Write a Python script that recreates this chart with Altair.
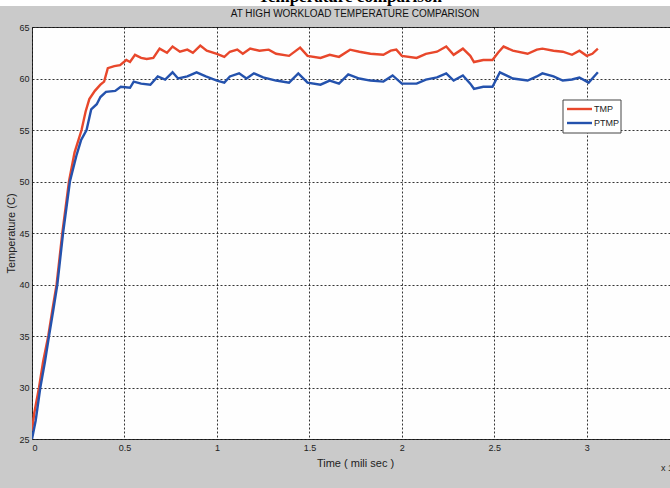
import altair as alt
import pandas as pd

# Series read as (time in ms, temperature in C)
tmp_time = [0, 0.012, 0.038, 0.06, 0.088, 0.11, 0.133, 0.164, 0.2, 0.23, 0.268, 0.29, 0.31, 0.34,
            0.37, 0.39, 0.41, 0.445, 0.476, 0.51, 0.53, 0.557, 0.59, 0.62, 0.656, 0.69, 0.73, 0.76,
            0.8, 0.84, 0.87, 0.91, 0.945, 1.0, 1.04, 1.07, 1.11, 1.14, 1.18, 1.23, 1.28, 1.32,
            1.39, 1.45, 1.49, 1.56, 1.61, 1.66, 1.72, 1.77, 1.83, 1.9, 1.94, 1.97, 2.0, 2.08,
            2.13, 2.19, 2.24, 2.28, 2.33, 2.37, 2.39, 2.44, 2.49, 2.52, 2.55, 2.6, 2.68, 2.73,
            2.76, 2.82, 2.87, 2.92, 2.96, 3.0, 3.03, 3.06]
tmp_temp = [25.8, 27.5, 30.0, 32.5, 35.0, 37.5, 40.0, 45.0, 50.0, 52.8, 55.0, 56.8, 58.0, 58.8,
            59.4, 59.7, 61.0, 61.2, 61.3, 61.8, 61.6, 62.3, 62.0, 61.9, 62.0, 62.9, 62.5, 63.1,
            62.6, 62.8, 62.5, 63.2, 62.7, 62.4, 62.1, 62.6, 62.8, 62.4, 62.9, 62.7, 62.8, 62.4,
            62.2, 63.0, 62.2, 62.0, 62.3, 62.1, 62.8, 62.6, 62.4, 62.3, 62.7, 62.8, 62.2, 62.0,
            62.4, 62.6, 63.1, 62.3, 62.9, 62.2, 61.6, 61.8, 61.8, 62.5, 63.1, 62.7, 62.4, 62.8,
            62.9, 62.7, 62.6, 62.3, 62.7, 62.2, 62.4, 62.9]

ptmp_time = [0, 0.02, 0.045, 0.07, 0.092, 0.115, 0.137, 0.168, 0.205, 0.24, 0.265, 0.295, 0.32,
             0.35, 0.37, 0.40, 0.45, 0.48, 0.53, 0.55, 0.59, 0.64, 0.68, 0.72, 0.76, 0.79, 0.84,
             0.89, 0.94, 1.0, 1.04, 1.07, 1.12, 1.16, 1.2, 1.25, 1.32, 1.39, 1.44, 1.49, 1.56,
             1.61, 1.66, 1.71, 1.77, 1.83, 1.9, 1.95, 2.0, 2.08, 2.13, 2.19, 2.24, 2.28, 2.33,
             2.37, 2.39, 2.44, 2.49, 2.53, 2.6, 2.68, 2.73, 2.76, 2.82, 2.87, 2.92, 2.96, 3.01,
             3.03, 3.06]
ptmp_temp = [25.0, 26.8, 30.0, 32.5, 35.0, 37.5, 40.0, 45.0, 50.0, 52.5, 54.0, 55.0, 57.0,
             57.5, 58.2, 58.7, 58.8, 59.2, 59.1, 59.7, 59.5, 59.4, 60.2, 59.9, 60.6, 60.0, 60.2,
             60.6, 60.2, 59.8, 59.6, 60.2, 60.5, 60.0, 60.5, 60.1, 59.8, 59.6, 60.5, 59.6, 59.4,
             59.8, 59.5, 60.4, 60.0, 59.8, 59.7, 60.3, 59.5, 59.5, 59.9, 60.1, 60.5, 59.8, 60.3,
             59.5, 59.0, 59.2, 59.2, 60.6, 60.0, 59.8, 60.2, 60.5, 60.2, 59.8, 59.9, 60.1, 59.6,
             60.0, 60.6]

series_names = ["TMP", "PTMP"]
series_colors = ["#e8472b", "#2452ad"]

x_ticks = [0, 0.5, 1, 1.5, 2, 2.5, 3]
y_ticks = [25, 30, 35, 40, 45, 50, 55, 60, 65]

chart_title = "AT HIGH WORKLOAD TEMPERATURE COMPARISON"
caption = "Temperature comparison"

df = pd.concat([
    pd.DataFrame({"t": tmp_time, "T": tmp_temp, "series": "TMP"}),
    pd.DataFrame({"t": ptmp_time, "T": ptmp_temp, "series": "PTMP"}),
], ignore_index=True)

W, H = 638, 412
FONT = "Liberation Sans Narrow, Liberation Sans, Arial, sans-serif"
color_scale = alt.Scale(domain=series_names, range=series_colors)

lines = alt.Chart(df).mark_line(strokeWidth=2.4, clip=True).encode(
    x=alt.X("t:Q", scale=alt.Scale(domain=[0, 3.45], nice=False, zero=False),
            axis=alt.Axis(values=x_ticks, format="~g", title="Time ( mili sec )",
                          titleX=323, titleY=24, titleBaseline="middle", titleAlign="center",
                          titleFontSize=11, titleFontWeight="normal", titleColor="#222",
                          grid=True, gridDash=[2, 2], gridColor="#111", gridOpacity=0.85,
                          ticks=False, labelPadding=4, labelFontSize=9, labelColor="#222",
                          domain=False)),
    y=alt.Y("T:Q", scale=alt.Scale(domain=[25, 65], nice=False, zero=False),
            axis=alt.Axis(values=y_ticks, title="Temperature (C)",
                          titleX=-21, titleY=206, titleBaseline="middle", titleAlign="center",
                          titleAngle=-90, titleFontSize=11, titleFontWeight="normal",
                          titleColor="#222", grid=True, gridDash=[2, 2], gridColor="#111",
                          gridOpacity=0.85, ticks=False, labelPadding=3, labelFontSize=9,
                          labelColor="#222", domain=False)),
    color=alt.Color("series:N", sort=series_names, scale=color_scale, legend=None),
)

# Boxed legend in the upper right of the plot area
legend_layers = [
    alt.Chart(pd.DataFrame({"k": [0]})).mark_rect(
        fill="#ffffff", stroke="#444444", strokeWidth=1
    ).encode(x=alt.value(531), x2=alt.value(589), y=alt.value(73), y2=alt.value(106))
]
for i, (name, col) in enumerate(zip(series_names, series_colors)):
    row_y = 82 + 14 * i
    legend_layers.append(
        alt.Chart(pd.DataFrame({"series": [name]})).mark_rule(
            strokeWidth=2.4, color=col
        ).encode(x=alt.value(535), x2=alt.value(560), y=alt.value(row_y))
    )
    legend_layers.append(
        alt.Chart(pd.DataFrame({"series": [name]})).mark_text(
            font=FONT, fontSize=9, color="#222", align="left", baseline="middle"
        ).encode(x=alt.value(562), y=alt.value(row_y), text="series:N")
    )

top_strip = alt.Chart(pd.DataFrame({"k": [0]})).mark_rect(color="#ffffff").encode(
    x=alt.value(-32), x2=alt.value(W), y=alt.value(-27), y2=alt.value(-21)
)

caption_text = alt.Chart(pd.DataFrame({"label": [caption]})).mark_text(
    font="Liberation Serif", fontSize=17, fontWeight="bold", color="#000",
    align="center", baseline="alphabetic"
).encode(x=alt.value(318), y=alt.value(-25.5), text="label:N")

title_text = alt.Chart(pd.DataFrame({"label": [chart_title]})).mark_text(
    font=FONT, fontSize=10, color="#111", align="center", baseline="middle"
).encode(x=alt.value(323), y=alt.value(-13), text="label:N")

exponent_text = alt.Chart(pd.DataFrame({"label": ["x 10"]})).mark_text(
    font=FONT, fontSize=9, color="#222", align="left", baseline="middle"
).encode(x=alt.value(629), y=alt.value(H + 29), text="label:N")

chart = alt.layer(
    top_strip, caption_text, title_text, lines, *legend_layers, exponent_text
).properties(
    width=W, height=H,
    padding={"left": 32, "top": 27, "right": 0, "bottom": 49},
    autosize=alt.AutoSizeParams(type="none"),
    background="#cacaca",
).configure_view(
    fill="#fefefe", stroke="#333333", strokeWidth=1
).configure_axis(
    labelFont=FONT, titleFont=FONT
)

chart.save("out.html", embed_options={"renderer": "svg", "actions": False})
